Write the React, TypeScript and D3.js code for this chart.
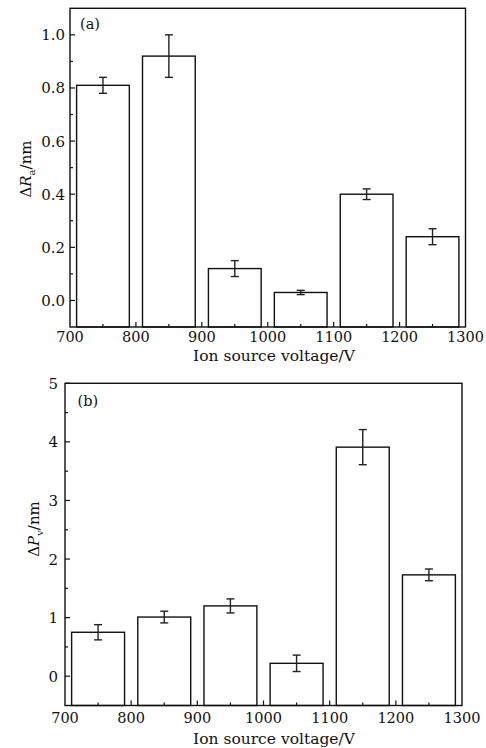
import React from "react";
import * as d3 from "d3";

const voltages = [750, 850, 950, 1050, 1150, 1250];
const raValues = [0.81, 0.92, 0.12, 0.03, 0.4, 0.24];
const raErrors = [0.03, 0.08, 0.03, 0.008, 0.02, 0.03];
const pvValues = [0.75, 1.01, 1.2, 0.22, 3.91, 1.73];
const pvErrors = [0.13, 0.1, 0.12, 0.14, 0.3, 0.1];
const xTicks = [700, 800, 900, 1000, 1100, 1200, 1300];
const xMinorTicks = [750, 850, 950, 1050, 1150, 1250];
const raTicks = [0, 0.2, 0.4, 0.6, 0.8, 1.0];
const raMinorTicks = [0.1, 0.3, 0.5, 0.7, 0.9];
const pvTicks = [0, 1, 2, 3, 4, 5];
const pvMinorTicks = [0.5, 1.5, 2.5, 3.5, 4.5];
const xTitle = "Ion source voltage/V";

const FONT = "DejaVu Serif, serif";

type PanelProps = {
  left: number; right: number; top: number; bottom: number;
  yDomain: [number, number];
  values: number[]; errors: number[];
  yTicks: number[]; yMinor: number[]; yFmt: (v: number) => string;
  tag: string; tagX: number; tagY: number;
  yLabelMain: string; yLabelSub: string; yLabelX: number; yLabelY: number;
  xLabelY: number; xTickY: number; yTickGap: number;
};

function Panel(p: PanelProps) {
  const x = d3.scaleLinear().domain([700, 1300]).range([p.left, p.right]);
  const y = d3.scaleLinear().domain(p.yDomain).range([p.bottom, p.top]);
  const halfW = 40;
  const cap = 4;
  const ts = { fontFamily: FONT };
  return (
    <g>
      {voltages.map((v, i) => (
        <rect key={"b" + i} x={x(v - halfW)} y={y(p.values[i])}
          width={x(v + halfW) - x(v - halfW)} height={p.bottom - y(p.values[i])}
          fill="#fff" stroke="#111" strokeWidth={1.4} />
      ))}
      {voltages.map((v, i) => {
        const cx = x(v);
        const y1 = y(p.values[i] + p.errors[i]);
        const y2 = y(p.values[i] - p.errors[i]);
        return (
          <g key={"e" + i} stroke="#222" strokeWidth={1.4}>
            <line x1={cx} x2={cx} y1={y1} y2={y2} />
            <line x1={cx - cap} x2={cx + cap} y1={y1} y2={y1} />
            <line x1={cx - cap} x2={cx + cap} y1={y2} y2={y2} />
          </g>
        );
      })}
      <rect x={p.left} y={p.top} width={p.right - p.left} height={p.bottom - p.top}
        fill="none" stroke="#111" strokeWidth={1.4} />
      {p.yTicks.map((t) => (
        <g key={"yt" + t}>
          <line x1={p.left} x2={p.left + 5} y1={y(t)} y2={y(t)} stroke="#111" strokeWidth={1.2} />
          <text x={p.left - p.yTickGap} y={y(t) + 5.5} textAnchor="end" fontSize={15} style={ts} fill="#111">
            {p.yFmt(t)}
          </text>
        </g>
      ))}
      {p.yMinor.map((t) => (
        <line key={"ym" + t} x1={p.left} x2={p.left + 3} y1={y(t)} y2={y(t)} stroke="#111" strokeWidth={1.2} />
      ))}
      {xTicks.map((t) => (
        <g key={"xt" + t}>
          {t > 700 && t < 1300 && (
            <line x1={x(t)} x2={x(t)} y1={p.bottom} y2={p.bottom - 5} stroke="#111" strokeWidth={1.2} />
          )}
          <text x={x(t)} y={p.xTickY} textAnchor="middle" fontSize={14.5} style={ts} fill="#111">
            {t}
          </text>
        </g>
      ))}
      {xMinorTicks.map((t) => (
        <line key={"xm" + t} x1={x(t)} x2={x(t)} y1={p.bottom} y2={p.bottom - 3} stroke="#111" strokeWidth={1.2} />
      ))}
      <text x={p.tagX} y={p.tagY} fontSize={14.5} style={ts} fill="#111">{p.tag}</text>
      <text x={274} y={p.xLabelY} textAnchor="middle" fontSize={15.5} style={ts} fill="#111">{xTitle}</text>
      <text transform={`translate(${p.yLabelX},${p.yLabelY}) rotate(-90)`} textAnchor="middle"
        fontSize={15} style={ts} fill="#111">
        <tspan>Δ</tspan>
        <tspan fontStyle="italic">{p.yLabelMain}</tspan>
        <tspan fontSize={10} dy={4}>{p.yLabelSub}</tspan>
        <tspan dy={-4}>/nm</tspan>
      </text>
    </g>
  );
}

export default function App() {
  return (
    <svg width={486} height={748} style={{ position: "absolute", left: 0, top: 0, background: "#fff" }}>
      <Panel left={70} right={465.5} top={8.3} bottom={327} yDomain={[-0.1, 1.1]}
        values={raValues} errors={raErrors} yTicks={raTicks} yMinor={raMinorTicks}
        yFmt={d3.format(".1f")} tag="(a)" tagX={80} tagY={29}
        yLabelMain="R" yLabelSub="a" yLabelX={31} yLabelY={169}
        xLabelY={360.5} xTickY={342} yTickGap={5} />
      <Panel left={65} right={462} top={383.3} bottom={705.5} yDomain={[-0.5, 5]}
        values={pvValues} errors={pvErrors} yTicks={pvTicks} yMinor={pvMinorTicks}
        yFmt={d3.format("d")} tag="(b)" tagX={77.5} tagY={405.5}
        yLabelMain="P" yLabelSub="v" yLabelX={39} yLabelY={529}
        xLabelY={744} xTickY={723} yTickGap={7} />
    </svg>
  );
}
